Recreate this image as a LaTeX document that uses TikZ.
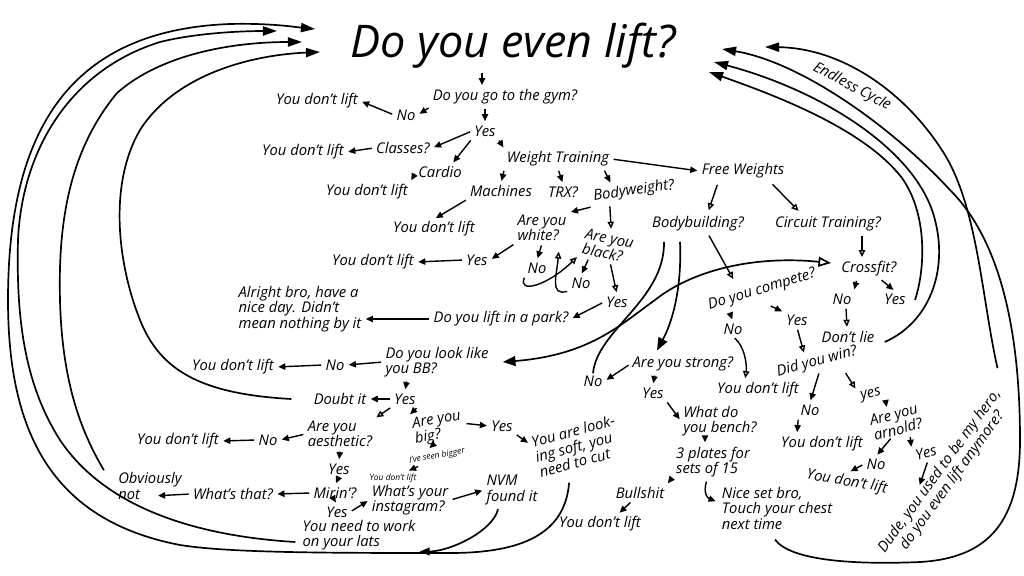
\documentclass[tikz,border=0pt]{standalone}
\usepackage{fontspec}
\setmainfont{Open Sans}
\usetikzlibrary{arrows.meta, calc}

\begin{document}
\begin{tikzpicture}[
    x=0.025cm, y=-0.025cm,
    every node/.style={font=\fontsize{10.5}{11}\selectfont\itshape, inner sep=1.5pt, align=left},
    headline/.style={font=\fontsize{32}{34}\selectfont\itshape},
    small/.style={font=\fontsize{6}{7}\selectfont\itshape},
    arr/.style={line width=1pt, shorten <=1.5pt, shorten >=1.5pt, -{Triangle[length=5pt, width=4.5pt]}},
    oarr/.style={arr, -{Triangle[open, length=5pt, width=4.5pt]}},
    bigarr/.style={line width=1.2pt, -{Triangle[length=9pt, width=7pt]}},
    midarr/.style={line width=1.2pt, -{Triangle[length=7pt, width=5.5pt]}},
    plain/.style={line width=1.2pt},
    loopback/.style={line width=1.2pt, -{Triangle[length=10pt, width=6.5pt]}},
]
\useasboundingbox (0,0) rectangle (1024,576);

% top of the chart
\node[headline] (title) at (513,46) {Do you even lift?};
\node (gym) at (505,97) {Do you go to the gym?};
\node (gymno) at (406,115) {No};
\node (nl1) at (317,101) {You don't lift};
\node (gymyes) at (485,131) {Yes};
\node (classes) at (403,148) {Classes?};
\node (nl2) at (303,152) {You don't lift};
\node (cardio) at (440,172) {Cardio};
\node (nl3) at (367,192) {You don't lift};
\node (wt) at (558,159) {Weight Training};
\node (machines) at (501,191) {Machines};
\node (trx) at (563,192) {TRX?};
\node[rotate=8] (bw) at (634,191) {Bodyweight?};
\node (fw) at (743,171) {Free Weights};
\node (nl4) at (434,229) {You don't lift};

% bodyweight branch
\node (white) at (542,228) {Are you\\white?};
\node[rotate=-12] (black) at (608,246) {Are you\\black?};
\node (whiteyes) at (477,260) {Yes};
\node (nl5) at (373,262) {You don't lift};
\node (whiteno) at (537,268) {No};
\node (blackno) at (581,283) {No};
\node (blackyes) at (617,302) {Yes};
\node (park) at (501,319) {Do you lift in a park?};
\node (alright) at (300,309) {Alright bro, have a\\nice day. Didn't\\mean nothing by it};

% free weights branch
\node (bodyb) at (698,224) {Bodybuilding?};
\node (circuit) at (828,224) {Circuit Training?};
\node (crossfit) at (869,269) {Crossfit?};
\node (cfno) at (842,299) {No};
\node (cfyes) at (895,299) {Yes};
\node (dontlie) at (848,337) {Don't lie};
\node[rotate=17] (compete) at (762,290) {Do you compete?};
\node (compno) at (733,329) {No};
\node (compyes) at (797,320) {Yes};
\node (nlc) at (758,390) {You don't lift};
\node[rotate=15] (win) at (817,362) {Did you win?};
\node (winno) at (810,410) {No};
\node (nlw) at (822,444) {You don't lift};
\node[rotate=15] (winyes) at (871,395) {yes};
\node[rotate=15] (arnold) at (896,422) {Are you\\arnold?};
\node (arnno) at (876,464) {No};
\node[rotate=-10] (nla) at (847,482) {You don't lift};
\node[rotate=15] (arnyes) at (926,453) {Yes};
\node[rotate=54, align=center] (dude) at (946,476) {Dude, you used to be my hero,\\do you even lift anymore?};
\coordinate (dudein) at (919,487);

\node (strong) at (683,364) {Are you strong?};
\node (strongno) at (593,381) {No};
\node (strongyes) at (653,393) {Yes};
\node (bench) at (720,421) {What do\\you bench?};
\node (plates) at (713,462) {3 plates for\\sets of 15};
\node (bull) at (640,493) {Bullshit};
\node (nlb) at (600,524) {You don't lift};
\node (nice) at (777,508) {Nice set bro,\\Touch your chest\\next time};

% the BB branch
\node (bb) at (437,362) {Do you look like\\you BB?};
\node (bbno) at (335,365) {No};
\node (nl6) at (233,367) {You don't lift};
\node (bbyes) at (405,399) {Yes};
\node (doubt) at (340,399) {Doubt it};
\node (aes) at (340,434) {Are you\\aesthetic?};
\node (aesno) at (268,440) {No};
\node (nl7) at (178,441) {You don't lift};
\node (aesyes) at (339,469) {Yes};
\node (mirin) at (335,493) {Mirin'?};
\node (whats) at (233,494) {What's that?};
\node (obv) at (150,486) {Obviously\\not};
\node (mirinyes) at (337,512) {Yes};
\node (insta) at (410,500) {What's your\\instagram?};
\node (lats) at (359,535) {You need to work\\on your lats};
\node (nvm) at (512,490) {NVM\\found it};
\node[rotate=10] (bigq) at (438,428) {Are you\\big?};
\node (bigyes) at (502,426) {Yes};
\node[rotate=15] (soft) at (577,446) {You are look-\\ing soft, you\\need to cut};
\node[small, rotate=10] (seen) at (437,456) {I've seen bigger};
\node[small] (nl8) at (393,478) {You don't lift};

\node[rotate=-28] (cycle) at (852,87) {Endless Cycle};

% where the loops come back in
\coordinate (tipA) at (315,29);
\coordinate (tipB) at (277,31);
\coordinate (tipC) at (302,42);
\coordinate (tipD) at (320,52);
\coordinate (tipE) at (765,47);
\coordinate (tipF) at (722,49);
\coordinate (tipG) at (714,62);
\coordinate (tipH) at (709,72);

% short arrows, top
\draw[arr] ($(title.south)+(-31,0)$) -- ($(gym.north)+(-23,0)$);
\draw[arr] (gym.south west) -- (gymno.east);
\draw[arr] (gymno.west) -- (nl1.east);
\draw[arr] ($(gym.south)+(-20,0)$) -- (gymyes.north);
\draw[arr] (gymyes.west) -- (classes.east);
\draw[arr] (classes.west) -- (nl2.east);
\draw[arr] (gymyes.south west) -- ($(cardio.north)+(12,0)$);
\draw[arr] (cardio.west) -- (nl3.north east);
\draw[arr] (gymyes.south east) -- (wt.north west);
\draw[arr] (wt.south west) -- (machines.north);
\draw[arr] (wt.south) -- (trx.north);
\draw[arr] ($(wt.south east)+(-8,0)$) -- ($(bw.north west)!0.25!(bw.north east)$);
\draw[arr] (wt.east) -- (fw.west);
\draw[arr] (machines.south west) -- (nl4.north);

% bodyweight
\draw[arr] (bw.south west) -- (white.north east);
\draw[oarr] ($(bw.south west)!0.2!(bw.south east)$) -- (black.north);
\draw[arr] (white.south west) -- (whiteyes.east);
\draw[arr] (whiteyes.west) -- (nl5.east);
\draw[arr] (white.south) -- (whiteno.north);
\draw[arr] ($(black.south west)!0.2!(black.south east)$) -- (blackno.north);
\draw[oarr] ($(black.south west)!0.6!(black.south east)$) -- (blackyes.north);
\draw[arr] (blackyes.west) -- (park.east);
\draw[arr] (park.west) -- (park.west -| alright.east);
\draw[oarr] (whiteno.south west) .. controls +(-8,18) and +(-32,31) .. (black.south west);
\draw[oarr] (blackno.south west) .. controls +(-20,6) and +(-2,25) .. ($(white.south east)+(-10,6)$);

% free weights
\draw[oarr] ($(fw.south)+(-25,2)$) -- ($(bodyb.north)+(10,-2)$);
\draw[oarr] ($(fw.south)+(28,2)$) -- ($(circuit.north)+(-28,-2)$);
\draw[oarr] ($(circuit.south)+(34,0)$) -- ($(crossfit.north)+(-7,0)$);
\draw[arr] ($(crossfit.south)+(-12,0)$) -- (cfno.north east);
\draw[arr] ($(crossfit.south)+(11,0)$) -- (cfyes.north);
\draw[oarr] ($(cfno.south)+(4,0)$) -- ($(dontlie.north)+(-1,0)$);
\draw[oarr] ($(bodyb.south)+(10,0)$) -- ($(compete.north)+(-25,0)$);
\draw[arr] ($(compete.south west)+(22,0)$) -- (compno.north);
\draw[arr] ($(compete.south)+(4,6)$) -- (compyes.north west);
\draw[oarr] (compno.south) .. controls +(12,10) and +(2,-15) .. ($(nlc.north)+(-13,0)$);
\draw[oarr] (compyes.south) -- ($(win.north)+(-10,2)$);
\draw[arr] (win.south) -- (winno.north);
\draw[arr] (winno.south west) -- ($(nlw.north)+(-25,0)$);
\draw[oarr] ($(win.south)+(25,0)$) -- (winyes.north west);
\draw[arr] (winyes.south east) -- ($(arnold.north)+(-5,2)$);
\draw[arr] ($(arnold.south)+(-8,0)$) -- (arnno.north);
\draw[arr] (arnno.west) -- (nla.north);
\draw[arr] ($(arnold.south)+(10,-2)$) -- (arnyes.north west);
\draw[arr] (arnyes.south) -- (dudein);

% strong
\draw[bigarr] ($(bodyb.south)+(-18,8)$) .. controls +(2,48) and +(15,-28) .. ($(strong.north)+(-26,-4)$);
\draw[plain] (strongno.north) .. controls (597,330) and (665,300) .. ($(bodyb.south)+(-34,8)$);
\draw[arr] (strong.west) -- (strongno.east);
\draw[arr] ($(strong.south)+(-28,0)$) -- (strongyes.north);
\draw[arr] (strongyes.south east) -- (bench.west);
\draw[arr] ($(bench.south)+(-15,0)$) -- ($(plates.north)+(-8,0)$);
\draw[arr] ($(plates.south west)+(-3,0)$) -- (bull.north east);
\draw[arr] ($(bull.south)+(-8,0)$) -- ($(nlb.north)+(18,0)$);
\draw[arr] ($(plates.south)+(-6,0)$) .. controls +(-4,14) and +(-10,-4) .. ($(nice.west)+(-2,-6)$);

% the long one across the middle
\draw[line width=1.2pt, {Triangle[length=9pt, width=7pt]}-{Triangle[open, length=9pt, width=7pt]}]
    ($(bb.east)+(12,0)$) .. controls (590,355) and (620,325) .. (655,300)
    .. controls (690,272) and (750,255) .. ($(crossfit.west)+(-8,-6)$);

% BB
\draw[arr] (bb.west) -- (bbno.east);
\draw[arr] (bbno.west) -- (nl6.east);
\draw[arr] ($(bb.south)+(-30,0)$) -- (bbyes.north);
\draw[arr] (bbyes.west) -- (doubt.east);
\draw[oarr] (bbyes.south west) -- (aes.north east);
\draw[arr] (bbyes.south east) -- (bigq.north west);
\draw[arr] (bigq.east) -- (bigyes.west);
\draw[arr] (bigyes.south east) -- ($(soft.north west)!0.4!(soft.west)$);
\draw[arr] ($(bigq.south)+(-8,0)$) -- ($(seen.north)+(-8,0)$);
\draw[arr] ($(seen.south west)!0.2!(seen.south east)$) -- ($(nl8.north)+(14,0)$);
\draw[arr] (aes.west) -- (aesno.east);
\draw[arr] (aesno.west) -- (nl7.east);
\draw[arr] (aes.south) -- (aesyes.north);
\draw[arr] (aesyes.south) -- (mirin.north);
\draw[arr] (mirin.west) -- (whats.east);
\draw[arr] (whats.west) -- ($(obv.south)+(6,-6)$);
\draw[arr] (mirin.south) -- (mirinyes.north);
\draw[arr] (mirinyes.east) -- (insta.west);
\draw[arr] (insta.east) -- (nvm.west);
\draw[midarr] ($(nvm.south)+(-14,2)$) .. controls +(-5,22) and +(30,0) .. ($(lats.south east)+(2,-1)$);

% back to the top, left side
\draw[loopback] ($(soft.south)+(-14,14)$) .. controls (565,535) and (520,553) .. (450,553)
    .. controls (330,553) and (230,553) .. (180,545)
    .. controls (50,520) and (8,430) .. (8,300)
    .. controls (8,130) and (70,30) .. (230,24)
    .. controls (270,23) and (295,27) .. (tipA);
\draw[loopback] ($(lats.west)+(-5,7)$) .. controls (180,535) and (100,500) .. (60,440)
    .. controls (25,385) and (16,320) .. (18,240)
    .. controls (22,150) and (70,70) .. (160,42)
    .. controls (200,32) and (250,31) .. (tipB);
\draw[loopback] ($(obv.north west)+(-12,0)$) .. controls (80,430) and (62,380) .. (60,300)
    .. controls (58,220) and (70,150) .. (117,93)
    .. controls (160,55) and (230,42) .. (tipC);
\draw[loopback] ($(doubt.west)+(-20,0)$) .. controls (200,394) and (160,370) .. (140,320)
    .. controls (118,265) and (108,185) .. (140,130)
    .. controls (175,75) and (250,55) .. (tipD);

% back to the top, right side
\draw[loopback] ($(dude.east)+(-8,-26)$) .. controls (982,300) and (978,210) .. (945,155)
    .. controls (905,90) and (840,48) .. (tipE);
\draw[loopback] ($(nice.south)+(-2,8)$) .. controls (790,560) and (850,565) .. (920,562)
    .. controls (990,558) and (1020,520) .. (1020,440)
    .. controls (1020,330) and (1000,240) .. (950,190)
    .. controls (890,125) and (800,62) .. (tipF);
\draw[loopback] ($(dontlie.east)+(8,5)$) .. controls (930,322) and (948,270) .. (935,220)
    .. controls (918,150) and (820,90) .. (tipG);
\draw[loopback] ($(cfyes.east)+(7,1)$) .. controls (925,270) and (928,215) .. (902,178)
    .. controls (865,130) and (780,97) .. (tipH);
\end{tikzpicture}
\end{document}
